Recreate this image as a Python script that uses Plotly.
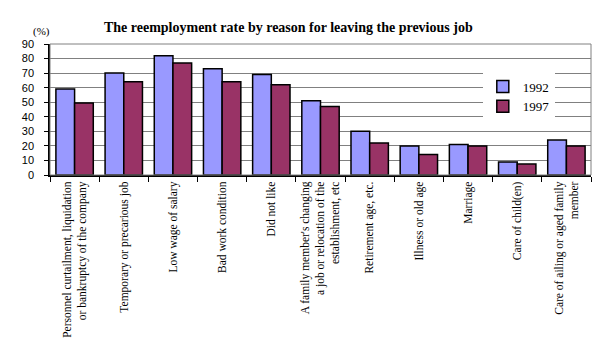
import plotly.graph_objects as go

categories = [
    "Personnel curtailment, liquidation<br>or bankruptcy of the company",
    "Temporary or precarious job",
    "Low wage of salary",
    "Bad work condition",
    "Did not like",
    "A family member's changing<br>a job or relocation of the<br>establishment, etc",
    "Retirement age, etc.",
    "Illness or old age",
    "Marriage",
    "Care of child(en)",
    "Care of ailing or aged family<br>member",
]
v1992 = [59, 70, 82, 73, 69, 51, 30, 20, 21, 9, 24]
v1997 = [49.5, 64, 77, 64, 62, 47, 22, 14, 20, 7.5, 20]
yticks = [0, 10, 20, 30, 40, 50, 60, 70, 80, 90]

serif = "Liberation Serif"

fig = go.Figure()
fig.add_bar(x=categories, y=v1992, name="1992",
            marker=dict(color="#9999FF", line=dict(color="black", width=1.5)))
fig.add_bar(x=categories, y=v1997, name="1997",
            marker=dict(color="#993366", line=dict(color="black", width=1.5)))

fig.update_layout(
    width=607, height=343,
    margin=dict(l=50, r=16, t=44, b=168, autoexpand=False),
    paper_bgcolor="white", plot_bgcolor="white",
    barmode="group", bargap=0.24, bargroupgap=0,
    showlegend=True,
    legend=dict(x=0.8, y=0.79, xanchor="left", yanchor="top",
                bgcolor="white", font=dict(family=serif, size=13, color="black"),
                itemwidth=30, tracegroupgap=0),
    title=dict(text="<b>The reemployment rate by reason for leaving the previous job</b>",
               x=0.475, xanchor="center", y=0.92, yanchor="middle",
               font=dict(family=serif, size=14, color="black")),
    annotations=[dict(text="(%)", xref="paper", yref="paper", x=-0.015, y=1.03,
                      xanchor="center", yanchor="bottom", showarrow=False,
                      font=dict(family=serif, size=11, color="black"))],
    shapes=[dict(type="rect", xref="paper", yref="paper", x0=0, x1=1, y0=0, y1=1,
                 line=dict(color="#808080", width=1), layer="above")],
)
fig.update_xaxes(
    tickangle=-90, tickfont=dict(family=serif, size=11.5, color="black"),
    showline=True, linecolor="black", linewidth=2,
    ticks="outside", ticklen=5, tickcolor="black", tickson="boundaries",
    showgrid=False, automargin=False,
)
fig.update_yaxes(
    range=[0, 90], tickvals=yticks, ticktext=[str(t) for t in yticks],
    tickfont=dict(family="Liberation Sans", size=11, color="black"),
    showline=True, linecolor="black", linewidth=1.5,
    ticks="outside", ticklen=4, tickcolor="black",
    showgrid=True, gridcolor="#808080", gridwidth=1,
    zeroline=False, ticklabelstandoff=8, automargin=False,
)
fig.write_html("out.html")
